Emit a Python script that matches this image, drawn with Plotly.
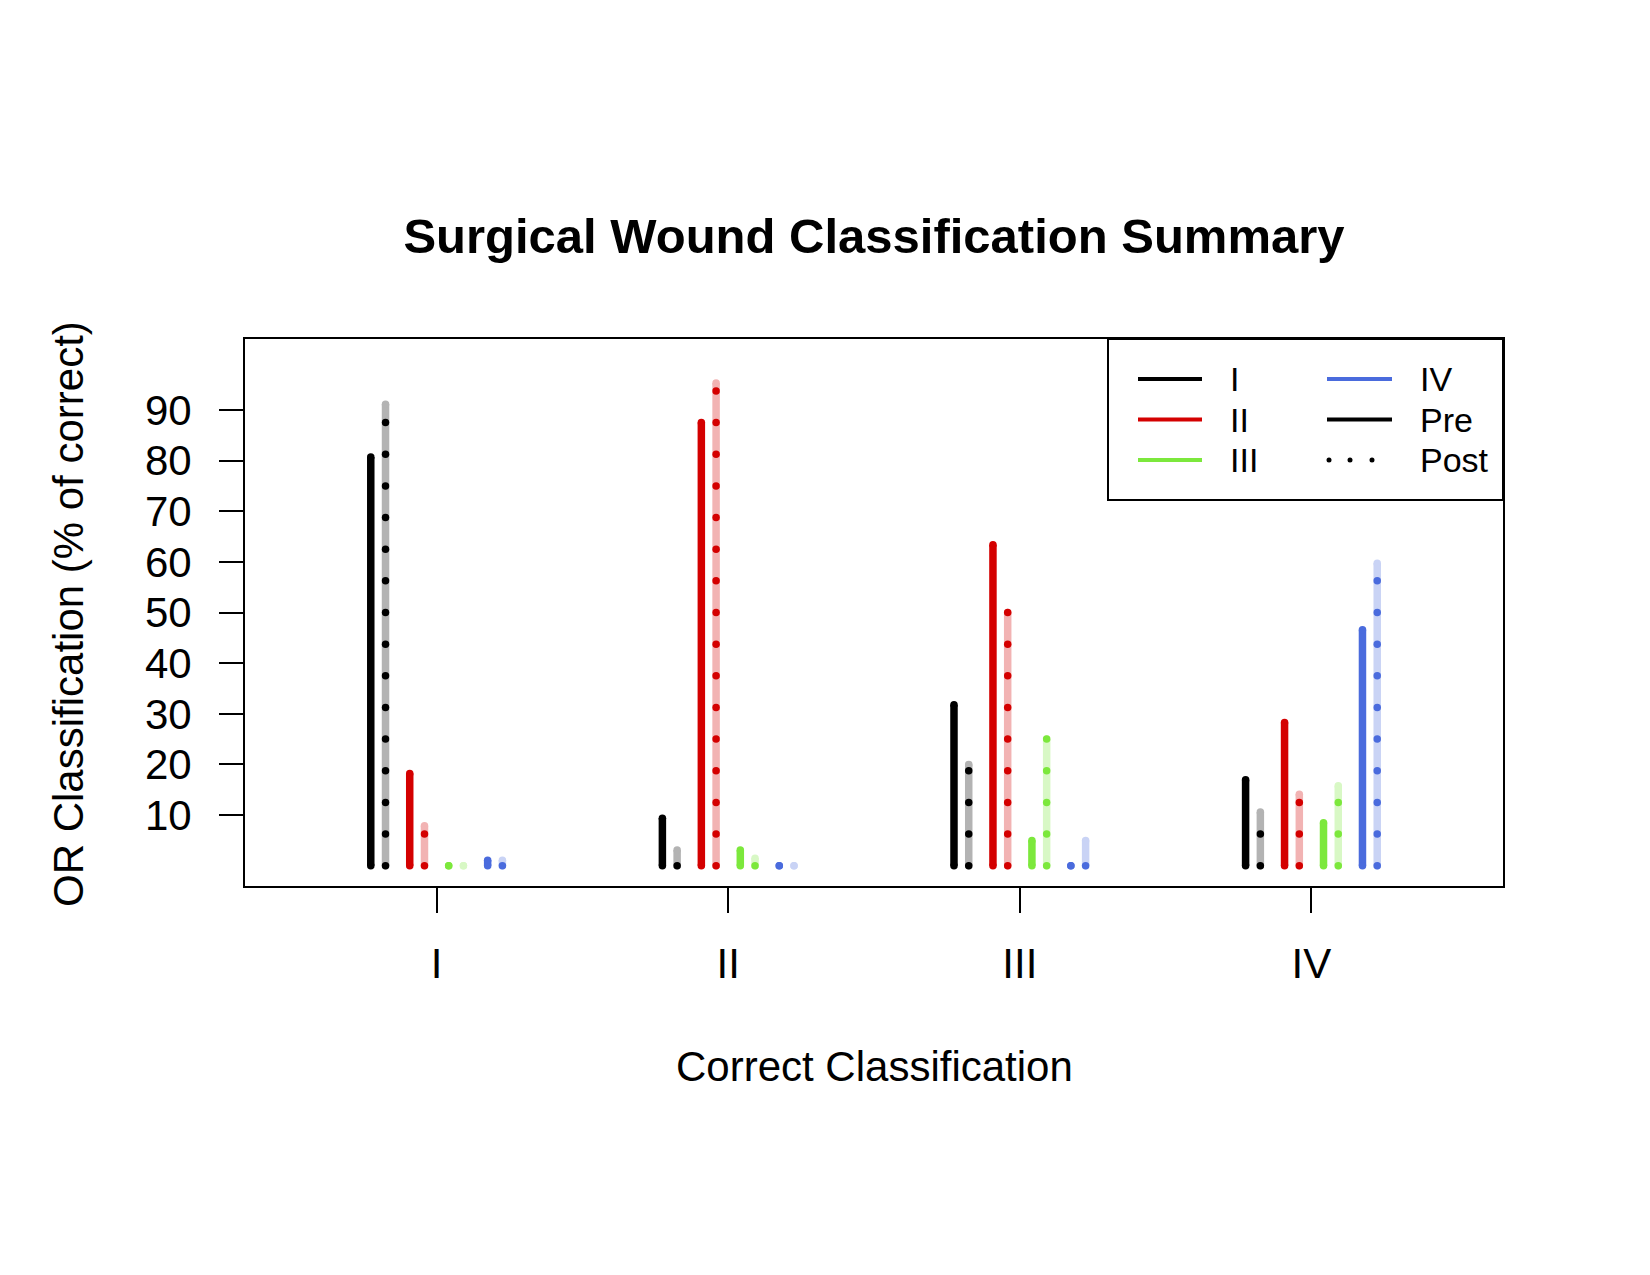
import numpy as np
import plotly.graph_objects as go

# ---------------- data ----------------
groups = ["I", "II", "III", "IV"]            # correct classification (x groups)
or_classes = ["I", "II", "III", "IV"]        # OR classification (series)
pre_I = [80.7, 9.4, 31.8, 17.0]
pre_II = [18.2, 87.5, 63.4, 28.3]
pre_III = [0.0, 3.1, 5.0, 8.5]
pre_IV = [1.1, 0.0, 0.0, 46.6]
post_I = [91.1, 3.1, 20.0, 10.6]
post_II = [7.9, 95.3, 50.0, 14.1]
post_III = [0.0, 1.5, 25.0, 15.8]
post_IV = [1.1, 0.0, 5.0, 59.7]
y_tick_vals = [10, 20, 30, 40, 50, 60, 70, 80, 90]
legend_left = ["I", "II", "III"]
legend_right = ["IV", "Pre", "Post"]

pre_vals = [pre_I, pre_II, pre_III, pre_IV]
post_vals = [post_I, post_II, post_III, post_IV]

# ---------------- style ----------------
full_cols = ["#000000", "#D40000", "#7CE83C", "#4A6BDD"]
light_cols = ["#B3B3B3", "#F2B3B3", "#D8F8C5", "#C9D3F5"]
FONT = "Liberation Sans, Arial, Helvetica, sans-serif"
OFF = 8                      # default page body margin
PAGE_W, PAGE_H = 1650, 1275
W, H = PAGE_W - OFF, PAGE_H - OFF
# plot box in page pixels
PL, PR, PT, PB = 245, 1503, 339, 886
L, R, T, B = PL - OFF, PR - OFF, PT - OFF, PB - OFF
LW = 7.5            # segment width (px)
DOT_STEP = 6.25     # dotted line period in data units
CLASS_SP = 0.1336   # spacing between OR classes within a group
PAIR = 0.0253       # half gap between pre and post


def px_x(px):
    return (px - PL) / (PR - PL)


def px_y(py):
    return (PB - py) / (PB - PT)


fig = go.Figure()
gpos = np.arange(1, len(groups) + 1)

for k in range(len(or_classes)):
    off = (k - 1.5) * CLASS_SP
    # pre (solid)
    xs, ys = [], []
    for g, v in zip(gpos, pre_vals[k]):
        xs += [g + off - PAIR, g + off - PAIR, None]
        ys += [0, v, None]
    fig.add_trace(go.Scatter(x=xs, y=ys, mode="lines+markers",
                             line=dict(color=full_cols[k], width=LW),
                             marker=dict(color=full_cols[k], size=LW),
                             showlegend=False, hoverinfo="skip"))
    # post (light background)
    xs, ys = [], []
    for g, v in zip(gpos, post_vals[k]):
        xs += [g + off + PAIR, g + off + PAIR, None]
        ys += [0, v, None]
    fig.add_trace(go.Scatter(x=xs, y=ys, mode="lines+markers",
                             line=dict(color=light_cols[k], width=LW),
                             marker=dict(color=light_cols[k], size=LW),
                             showlegend=False, hoverinfo="skip"))
    # post (dotted overlay)
    dx, dy = [], []
    for g, v in zip(gpos, post_vals[k]):
        if v > 0:
            d = np.arange(0, v + 1e-9, DOT_STEP)
            dx += [g + off + PAIR] * len(d)
            dy += list(d)
    fig.add_trace(go.Scatter(x=dx, y=dy, mode="markers",
                             marker=dict(color=full_cols[k], size=LW),
                             showlegend=False, hoverinfo="skip"))

axis_common = dict(showline=True, mirror=True, linewidth=2, linecolor="black",
                   showgrid=False, zeroline=False, ticks="outside",
                   tickwidth=2, tickcolor="black",
                   tickfont=dict(family=FONT, size=42, color="black"))

fig.update_xaxes(range=[0.343, 4.657], tickvals=list(gpos), ticktext=groups,
                 ticklen=25, ticklabelstandoff=15, **axis_common)
fig.update_yaxes(range=[-4, 104], tickvals=y_tick_vals,
                 ticktext=[str(v) for v in y_tick_vals],
                 ticklen=24, ticklabelstandoff=19, **axis_common)

LEG_FS = 34
shapes = []
annotations = []
# legend box
shapes.append(dict(type="rect", xref="paper", yref="paper",
                   x0=px_x(1108), x1=1.0, y0=px_y(500), y1=1.0,
                   line=dict(color="black", width=2), fillcolor="white", layer="above"))
rows = [379, 419.5, 460]
for i, lab in enumerate(legend_left):
    shapes.append(dict(type="line", xref="paper", yref="paper",
                       x0=px_x(1138), x1=px_x(1202), y0=px_y(rows[i]), y1=px_y(rows[i]),
                       line=dict(color=full_cols[i], width=4)))
    annotations.append(dict(text=lab, xref="paper", yref="paper", x=px_x(1228), y=px_y(rows[i]),
                            xanchor="left", yanchor="middle", showarrow=False,
                            font=dict(family=FONT, size=LEG_FS, color="black")))
for i, lab in enumerate(legend_right):
    if lab == "Post":
        for dxp in [1329, 1350, 1372]:
            shapes.append(dict(type="circle", xref="paper", yref="paper",
                               xsizemode="pixel", ysizemode="pixel",
                               xanchor=px_x(dxp), yanchor=px_y(rows[i]),
                               x0=-2.5, x1=2.5, y0=-2.5, y1=2.5,
                               fillcolor="black", line=dict(width=0)))
    else:
        col = full_cols[3] if lab == "IV" else "black"
        shapes.append(dict(type="line", xref="paper", yref="paper",
                           x0=px_x(1327), x1=px_x(1392), y0=px_y(rows[i]), y1=px_y(rows[i]),
                           line=dict(color=col, width=4)))
    annotations.append(dict(text=lab, xref="paper", yref="paper", x=px_x(1418), y=px_y(rows[i]),
                            xanchor="left", yanchor="middle", showarrow=False,
                            font=dict(family=FONT, size=LEG_FS, color="black")))

# axis titles
annotations.append(dict(text="Correct Classification", xref="paper", yref="paper",
                        x=0.5, y=px_y(1066), xanchor="center", yanchor="middle",
                        showarrow=False, font=dict(family=FONT, size=42, color="black")))
annotations.append(dict(text="OR Classification (% of correct)", xref="paper", yref="paper",
                        x=px_x(68), y=px_y(614), xanchor="center", yanchor="middle",
                        textangle=-90, showarrow=False,
                        font=dict(family=FONT, size=42, color="black")))

fig.update_layout(
    width=W, height=H, autosize=False,
    margin=dict(l=L, r=W - R, t=T, b=H - B, pad=0),
    paper_bgcolor="white", plot_bgcolor="white",
    title=dict(text="Surgical Wound Classification Summary",
               x=0.5, xref="paper", y=1 - (236 - OFF) / H, yref="container",
               xanchor="center", yanchor="middle",
               font=dict(family=FONT, size=49, color="black", weight="bold")),
    shapes=shapes, annotations=annotations, showlegend=False,
)

fig.write_html("out.html")
